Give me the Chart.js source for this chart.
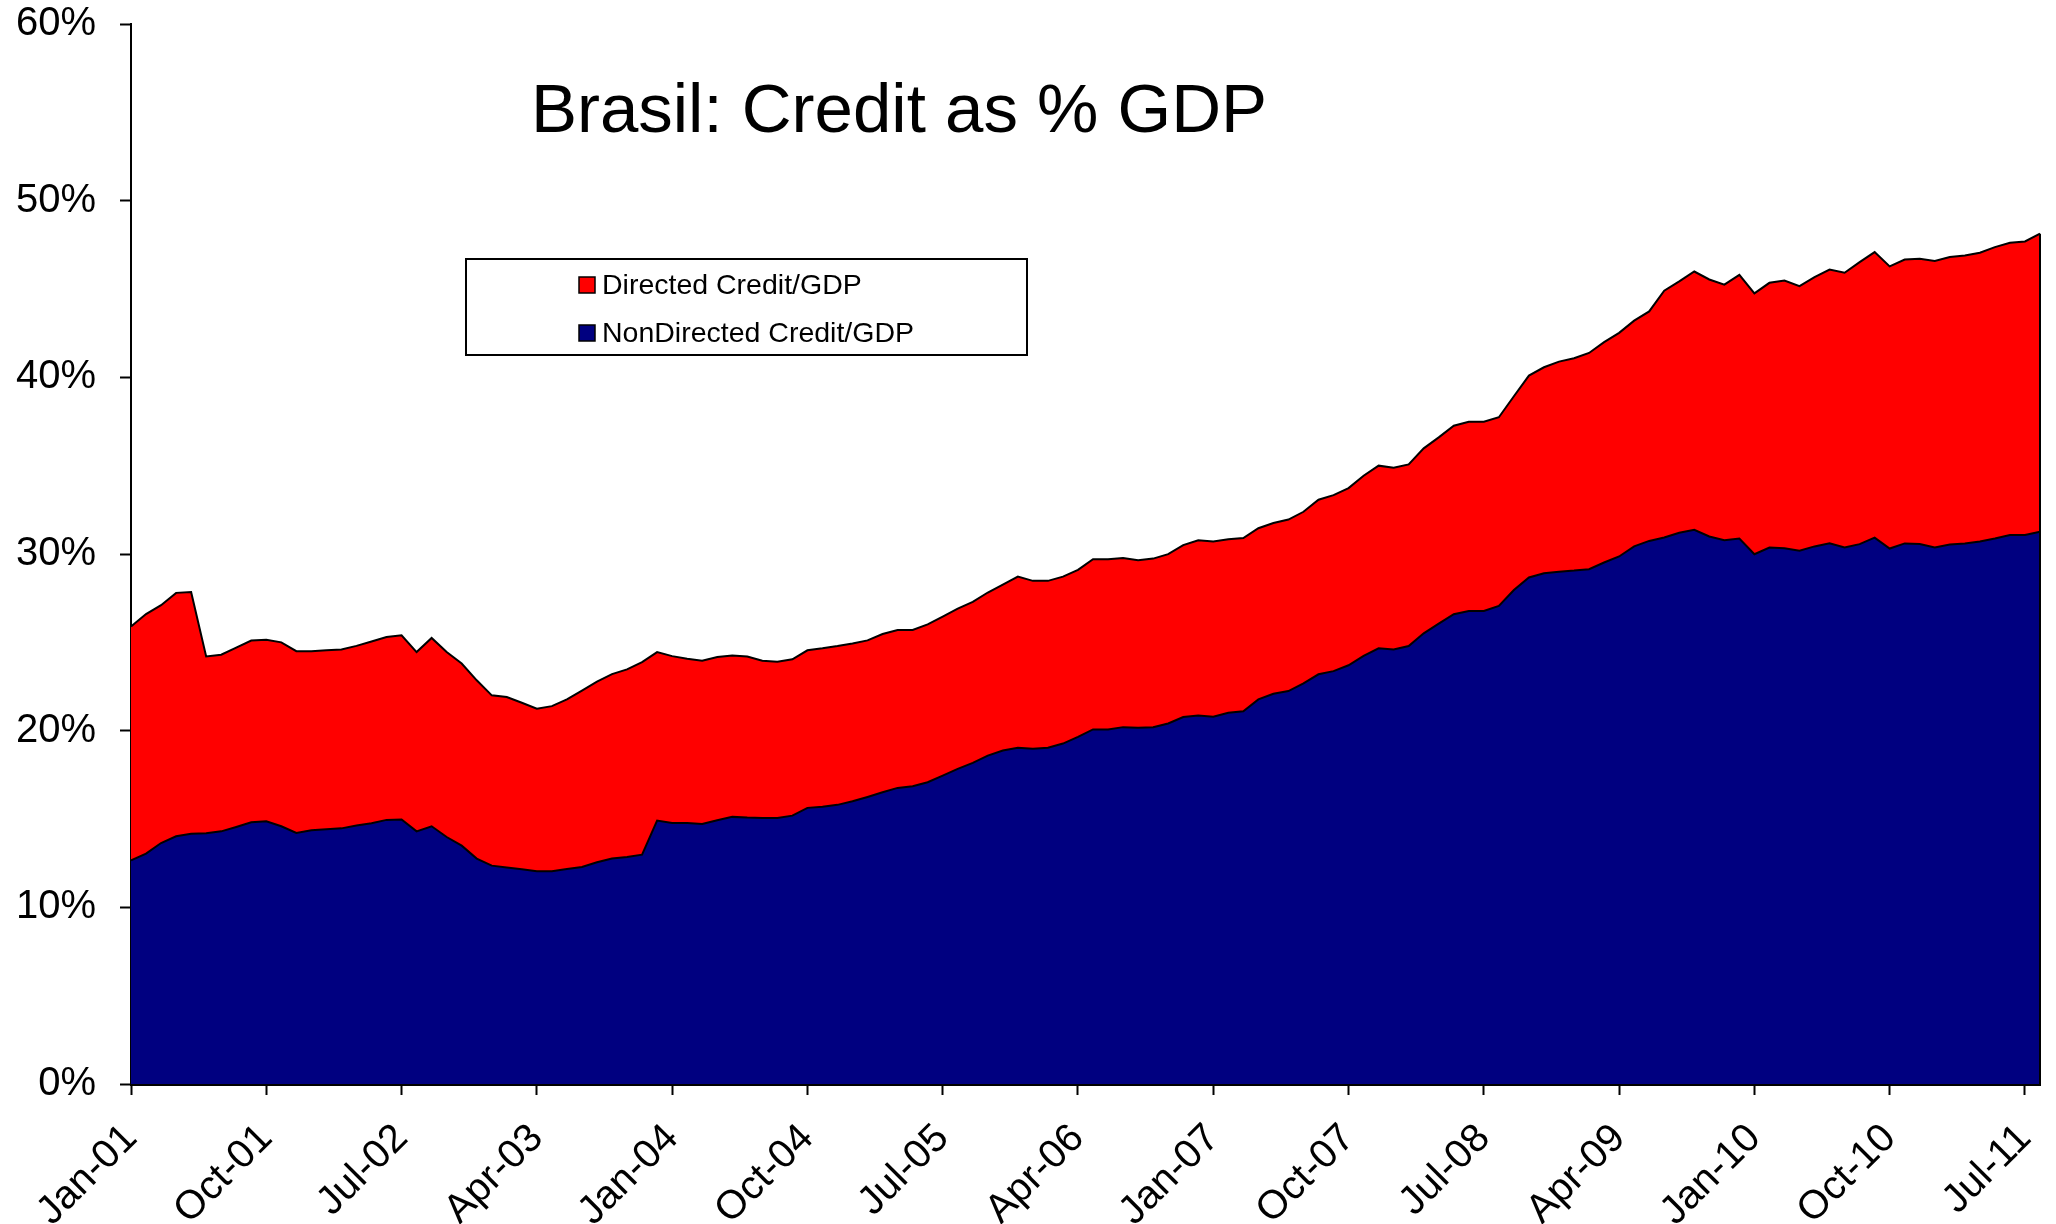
<!DOCTYPE html>
<html>
<head>
<meta charset="utf-8">
<title>Brasil: Credit as % GDP</title>
<script src="https://cdn.jsdelivr.net/npm/chart.js@4.4.1/dist/chart.umd.min.js"></script>
<style>
  html, body { margin: 0; padding: 0; background: #ffffff; }
  #wrap { width: 2056px; height: 1224px; }
</style>
</head>
<body>
<div id="wrap"><canvas id="chart" width="2056" height="1224"></canvas></div>
<script>
// Monthly categories, Jan-01 .. Aug-11
const monthNames = ['Jan','Feb','Mar','Apr','May','Jun','Jul','Aug','Sep','Oct','Nov','Dec'];
const firstYear = 2001;
const monthCount = 128;
const categories = [];
for (let i = 0; i < monthCount; i++) {
  const yy = String((firstYear + Math.floor(i / 12)) % 100).padStart(2, '0');
  categories.push(monthNames[i % 12] + '-' + yy);
}
const xLabelEvery = 9;                       // one axis label every 9 months
const yTickValues = [0, 10, 20, 30, 40, 50, 60];

const seriesNames = ['NonDirected Credit/GDP', 'Directed Credit/GDP'];
const seriesColors = ['#000080', '#FF0000'];

// Non-directed (free) credit, % of GDP
const nonDirected = [
  12.66,13.04,13.64,14.02,14.17,14.19,14.30,14.55,14.81,14.87,
  14.59,14.21,14.36,14.42,14.47,14.63,14.76,14.95,14.97,14.30,
  14.59,13.98,13.49,12.76,12.36,12.25,12.15,12.04,12.04,12.17,
  12.28,12.55,12.76,12.85,12.98,14.91,14.78,14.78,14.72,14.93,
  15.12,15.08,15.06,15.06,15.19,15.63,15.69,15.80,16.00,16.25,
  16.51,16.76,16.86,17.08,17.46,17.84,18.18,18.59,18.88,19.03,
  18.97,19.03,19.27,19.65,20.07,20.07,20.20,20.16,20.20,20.41,
  20.77,20.86,20.79,21.01,21.10,21.77,22.09,22.24,22.68,23.19,
  23.37,23.70,24.23,24.66,24.60,24.79,25.51,26.06,26.59,26.77,
  26.77,27.06,27.96,28.67,28.91,29.00,29.06,29.14,29.52,29.86,
  30.43,30.74,30.93,31.20,31.37,30.99,30.78,30.88,29.99,30.37,
  30.33,30.18,30.43,30.61,30.37,30.56,30.93,30.31,30.60,30.56,
  30.37,30.54,30.60,30.71,30.88,31.08,31.07,31.26
];

// Directed credit, % of GDP (stacked on top of non-directed)
const directed = [
  13.24,13.56,13.46,13.78,13.68,10.01,10.00,10.15,10.29,10.28,
  10.41,10.29,10.14,10.13,10.13,10.17,10.29,10.35,10.43,10.15,
  10.66,10.47,10.31,10.09, 9.64, 9.65, 9.43, 9.20, 9.35, 9.60,
   9.98,10.22,10.44,10.62,10.90, 9.54, 9.44, 9.29, 9.24, 9.24,
   9.14, 9.12, 8.90, 8.84, 8.85, 8.92, 8.97, 8.99, 8.94, 8.86,
   8.96, 8.94, 8.84, 8.94, 9.00, 9.07, 9.11, 9.23, 9.39, 9.69,
   9.51, 9.45, 9.45, 9.45, 9.63, 9.63, 9.58, 9.49, 9.54, 9.58,
   9.73, 9.92, 9.92, 9.83, 9.80, 9.69, 9.66, 9.71, 9.71, 9.88,
   9.96,10.03,10.20,10.34,10.28,10.28,10.47,10.54,10.67,10.72,
  10.72,10.68,10.97,11.43,11.66,11.89,12.02,12.24,12.47,12.66,
  12.78,12.99,13.97,14.23,14.62,14.55,14.47,14.92,14.76,14.98,
  15.15,14.98,15.24,15.49,15.55,15.96,16.16,15.97,16.07,16.15,
  16.21,16.27,16.30,16.34,16.49,16.54,16.62,16.87
];

const chartTitle = 'Brasil: Credit as % GDP';
const FONT = '"Liberation Sans", Arial, Helvetica, sans-serif';

// Closes the stacked areas on the right with a vertical outline at the last month
const rightEdgeOutline = {
  id: 'rightEdgeOutline',
  afterDatasetsDraw(chart) {
    const metaTop = chart.getDatasetMeta(chart.data.datasets.length - 1);
    const last = metaTop.data[metaTop.data.length - 1];
    if (!last) return;
    const y0 = chart.scales.y.getPixelForValue(0);
    const c = chart.ctx;
    c.save();
    c.strokeStyle = '#000';
    c.lineWidth = 2;
    c.beginPath();
    c.moveTo(last.x, last.y);
    c.lineTo(last.x, y0);
    c.stroke();
    c.restore();
  }
};

// Title written inside the plot area
const innerTitle = {
  id: 'innerTitle',
  afterDraw(chart) {
    const c = chart.ctx;
    c.save();
    c.fillStyle = '#000';
    c.font = '69px ' + FONT;
    c.textAlign = 'center';
    c.textBaseline = 'alphabetic';
    c.fillText(chartTitle, 899, 132);
    c.restore();
  }
};

// Boxed legend, top series listed first
const boxLegend = {
  id: 'boxLegend',
  afterDraw(chart) {
    const c = chart.ctx;
    const box = { x: 466, y: 259, w: 561, h: 96 };
    c.save();
    c.fillStyle = '#fff';
    c.fillRect(box.x, box.y, box.w, box.h);
    c.strokeStyle = '#000';
    c.lineWidth = 2;
    c.strokeRect(box.x, box.y, box.w, box.h);
    const ds = chart.data.datasets.slice().reverse();
    const rowY = [285, 333];
    c.font = '28.5px ' + FONT;
    c.textBaseline = 'middle';
    c.textAlign = 'left';
    ds.forEach((d, i) => {
      const cy = rowY[i];
      c.fillStyle = d.backgroundColor;
      c.fillRect(579, cy - 8, 16, 16);
      c.strokeStyle = '#000';
      c.lineWidth = 1.5;
      c.strokeRect(579, cy - 8, 16, 16);
      c.fillStyle = '#000';
      c.fillText(d.label, 602, cy + 1);
    });
    c.restore();
  }
};

const ctx = document.getElementById('chart').getContext('2d');
new Chart(ctx, {
  type: 'line',
  data: {
    labels: categories,
    datasets: [
      {
        label: seriesNames[0],
        data: nonDirected,
        backgroundColor: seriesColors[0],
        borderColor: '#000',
        borderWidth: 2,
        fill: 'origin',
        pointRadius: 0,
        tension: 0
      },
      {
        label: seriesNames[1],
        data: directed,
        backgroundColor: seriesColors[1],
        borderColor: '#000',
        borderWidth: 2,
        fill: '-1',
        pointRadius: 0,
        tension: 0
      }
    ]
  },
  options: {
    responsive: false,
    animation: false,
    devicePixelRatio: 1,
    layout: { padding: { top: 24, right: 16, bottom: 0, left: 0 } },
    plugins: {
      legend: { display: false },
      tooltip: { enabled: false },
      title: { display: false }
    },
    scales: {
      x: {
        type: 'category',
        offset: false,
        z: 1,
        border: { display: true, color: '#000', width: 3 },
        grid: {
          display: true,
          drawOnChartArea: false,
          drawTicks: true,
          tickLength: 11,
          tickWidth: 2,
          tickColor: (c) => (c.index % xLabelEvery === 0 ? '#000' : 'rgba(0,0,0,0)')
        },
        ticks: {
          autoSkip: false,
          minRotation: 45,
          maxRotation: 45,
          padding: 20,
          color: '#000',
          font: { family: FONT, size: 40 },
          callback: (v, i) => (i % xLabelEvery === 0 ? categories[i] : '')
        },
        afterFit: (s) => { s.height = 140; s.paddingLeft = 0; s.paddingRight = 0; }
      },
      y: {
        stacked: true,
        min: 0,
        max: 60,
        z: 1,
        border: { display: true, color: '#000', width: 2 },
        grid: {
          display: true,
          drawOnChartArea: false,
          drawTicks: true,
          tickLength: 11,
          tickWidth: 2,
          tickColor: '#000'
        },
        afterBuildTicks: (s) => { s.ticks = yTickValues.map(v => ({ value: v })); },
        ticks: {
          padding: 24,
          color: '#000',
          font: { family: FONT, size: 40 },
          callback: (v) => v + '%'
        },
        afterFit: (s) => { s.width = 131; s.paddingTop = 0; s.paddingBottom = 0; }
      }
    }
  },
  plugins: [rightEdgeOutline, innerTitle, boxLegend]
});
</script>
</body>
</html>
